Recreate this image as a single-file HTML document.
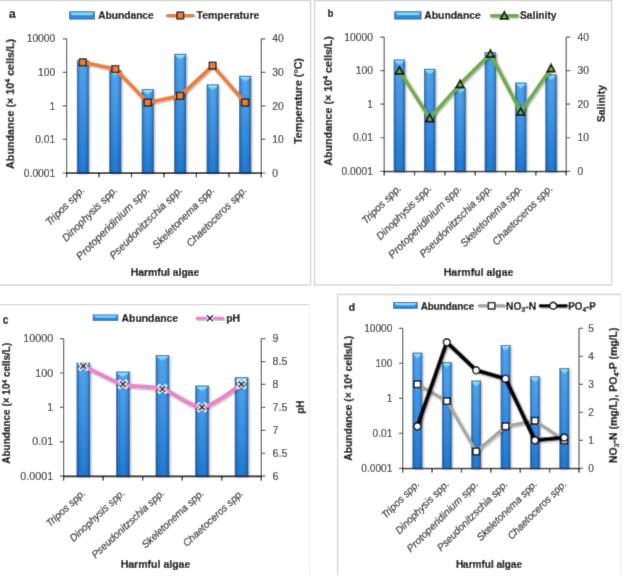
<!DOCTYPE html>
<html lang="en"><head><meta charset="utf-8"><title>Harmful algae abundance</title>
<style>
html,body{margin:0;padding:0;background:#fff}
svg{display:block}
text{font-family:"Liberation Sans",sans-serif}
.r{stroke:#262626;stroke-width:0.15px}
.b{font-weight:bold;stroke:#000;stroke-width:0.22px}
.i{font-style:italic;stroke:#262626;stroke-width:0.2px}
</style></head><body>
<svg width="624" height="578" viewBox="0 0 624 578">
<defs>
<linearGradient id="bv" x1="0" y1="0" x2="0" y2="1">
<stop offset="0" stop-color="#4fa5ee"/><stop offset="0.45" stop-color="#3d93e4"/><stop offset="1" stop-color="#1f78d2"/>
</linearGradient>
<linearGradient id="be" x1="0" y1="0" x2="1" y2="0">
<stop offset="0" stop-color="#0b2f5c" stop-opacity="0.6"/><stop offset="0.08" stop-color="#0b2f5c" stop-opacity="0.4"/><stop offset="0.2" stop-color="#0b2f5c" stop-opacity="0.1"/><stop offset="0.4" stop-color="#0b2f5c" stop-opacity="0"/><stop offset="0.6" stop-color="#0b2f5c" stop-opacity="0"/><stop offset="0.8" stop-color="#0b2f5c" stop-opacity="0.1"/><stop offset="0.92" stop-color="#0b2f5c" stop-opacity="0.4"/><stop offset="1" stop-color="#0b2f5c" stop-opacity="0.6"/>
</linearGradient>
<linearGradient id="lg" x1="0" y1="0" x2="0" y2="1">
<stop offset="0" stop-color="#45a0ec"/><stop offset="1" stop-color="#2a84d8"/>
</linearGradient>
<linearGradient id="hl" x1="0" y1="0" x2="0" y2="1">
<stop offset="0" stop-color="#93e6ff"/><stop offset="1" stop-color="#63c4f6"/>
</linearGradient>
<filter id="sh" x="-20%" y="-20%" width="140%" height="140%"><feGaussianBlur in="SourceAlpha" stdDeviation="1.2" result="b"/><feOffset in="b" dx="0.6" dy="0.8" result="o"/><feComponentTransfer in="o" result="s"><feFuncA type="linear" slope="0.38"/></feComponentTransfer><feMerge><feMergeNode in="s"/><feMergeNode in="SourceGraphic"/></feMerge></filter>
<filter id="soft" filterUnits="userSpaceOnUse" x="0" y="0" width="624" height="578"><feConvolveMatrix order="3" kernelMatrix="0 1 0 1 5 1 0 1 0" edgeMode="duplicate" preserveAlpha="true"/></filter>
</defs>
<rect width="624" height="578" fill="#fff"/>
<g filter="url(#soft)">
<rect x="-10" y="-10" width="644" height="598" fill="#fff"/>

<path d="M0 0.6H310.6V285H0" fill="none" stroke="#d4d4d4" stroke-width="1.4"/>
<rect x="314.6" y="0.6" width="297.1" height="284.4" fill="none" stroke="#d4d4d4" stroke-width="1.4"/>
<path d="M0 304.6H309.4" fill="none" stroke="#d4d4d4" stroke-width="1.2"/>
<path d="M309.4 304.6V575" fill="none" stroke="#f0f0f0" stroke-width="1"/>
<path d="M337.6 575V294.5H620.6" fill="none" stroke="#d4d4d4" stroke-width="1.3"/>
<path d="M620.6 294.5V575" fill="none" stroke="#ececec" stroke-width="1"/>
<g>
<rect x="76.92" y="60.5" width="11.8" height="112.5" fill="url(#bv)" filter="url(#sh)"/>
<rect x="76.92" y="60.5" width="11.8" height="112.5" fill="url(#be)"/>
<path d="M76.92 60.95H88.72" stroke="#1c5a98" stroke-width="0.9" opacity="0.75"/>
<path d="M78.12 61.5 H87.52 V62.4 L84.02 65.4 Q82.82 66.2 81.62 65.4 L78.12 62.4 Z" fill="url(#hl)"/>
<rect x="109.38" y="70.4" width="11.8" height="102.6" fill="url(#bv)" filter="url(#sh)"/>
<rect x="109.38" y="70.4" width="11.8" height="102.6" fill="url(#be)"/>
<path d="M109.38 70.85H121.17" stroke="#1c5a98" stroke-width="0.9" opacity="0.75"/>
<path d="M110.58 71.4 H119.97 V72.3 L116.48 75.3 Q115.28 76.1 114.08 75.3 L110.58 72.3 Z" fill="url(#hl)"/>
<rect x="141.82" y="89" width="11.8" height="84" fill="url(#bv)" filter="url(#sh)"/>
<rect x="141.82" y="89" width="11.8" height="84" fill="url(#be)"/>
<path d="M141.82 89.45H153.62" stroke="#1c5a98" stroke-width="0.9" opacity="0.75"/>
<path d="M143.02 90 H152.43 V90.9 L148.92 93.9 Q147.72 94.7 146.53 93.9 L143.02 90.9 Z" fill="url(#hl)"/>
<rect x="174.28" y="53.9" width="11.8" height="119.1" fill="url(#bv)" filter="url(#sh)"/>
<rect x="174.28" y="53.9" width="11.8" height="119.1" fill="url(#be)"/>
<path d="M174.28 54.35H186.08" stroke="#1c5a98" stroke-width="0.9" opacity="0.75"/>
<path d="M175.47 54.9 H184.88 V55.8 L181.38 58.8 Q180.18 59.6 178.98 58.8 L175.47 55.8 Z" fill="url(#hl)"/>
<rect x="206.72" y="84.5" width="11.8" height="88.5" fill="url(#bv)" filter="url(#sh)"/>
<rect x="206.72" y="84.5" width="11.8" height="88.5" fill="url(#be)"/>
<path d="M206.72 84.95H218.53" stroke="#1c5a98" stroke-width="0.9" opacity="0.75"/>
<path d="M207.92 85.5 H217.33 V86.4 L213.82 89.4 Q212.62 90.2 211.43 89.4 L207.92 86.4 Z" fill="url(#hl)"/>
<rect x="239.18" y="75.9" width="11.8" height="97.1" fill="url(#bv)" filter="url(#sh)"/>
<rect x="239.18" y="75.9" width="11.8" height="97.1" fill="url(#be)"/>
<path d="M239.18 76.35H250.98" stroke="#1c5a98" stroke-width="0.9" opacity="0.75"/>
<path d="M240.38 76.9 H249.78 V77.8 L246.28 80.8 Q245.08 81.6 243.88 80.8 L240.38 77.8 Z" fill="url(#hl)"/>
<path d="M66.6 38.8 V173 M261.3 38.8 V173 M66.6 173 H261.3" stroke="#555" stroke-width="1.2" fill="none"/>
<text class="r" x="55.3" y="42.4" font-size="10.17" text-anchor="end" fill="#262626" textLength="28.64" lengthAdjust="spacingAndGlyphs">10000</text>
<text class="r" x="55.3" y="75.95" font-size="10.17" text-anchor="end" fill="#262626" textLength="17.18" lengthAdjust="spacingAndGlyphs">100</text>
<text class="r" x="55.3" y="109.5" font-size="10.17" text-anchor="end" fill="#262626" textLength="5.73" lengthAdjust="spacingAndGlyphs">1</text>
<text class="r" x="55.3" y="143.05" font-size="10.17" text-anchor="end" fill="#262626" textLength="20.04" lengthAdjust="spacingAndGlyphs">0.01</text>
<text class="r" x="55.3" y="176.6" font-size="10.17" text-anchor="end" fill="#262626" textLength="31.49" lengthAdjust="spacingAndGlyphs">0.0001</text>
<text class="r" x="272.3" y="42.4" font-size="10.17" text-anchor="start" fill="#262626" textLength="11.46" lengthAdjust="spacingAndGlyphs">40</text>
<text class="r" x="272.3" y="75.95" font-size="10.17" text-anchor="start" fill="#262626" textLength="11.46" lengthAdjust="spacingAndGlyphs">30</text>
<text class="r" x="272.3" y="109.5" font-size="10.17" text-anchor="start" fill="#262626" textLength="11.46" lengthAdjust="spacingAndGlyphs">20</text>
<text class="r" x="272.3" y="143.05" font-size="10.17" text-anchor="start" fill="#262626" textLength="11.46" lengthAdjust="spacingAndGlyphs">10</text>
<text class="r" x="272.3" y="176.6" font-size="10.17" text-anchor="start" fill="#262626" textLength="5.73" lengthAdjust="spacingAndGlyphs">0</text>
<path d="M62.8 38.8H66.6M62.8 72.35H66.6M62.8 105.9H66.6M62.8 139.45H66.6M62.8 173H66.6M261.3 38.8H265.3M261.3 72.35H265.3M261.3 105.9H265.3M261.3 139.45H265.3M261.3 173H265.3" stroke="#555" stroke-width="1.2" fill="none"/>
<path d="M66.6 173V177.3M99.05 173V177.3M131.5 173V177.3M163.95 173V177.3M196.4 173V177.3M228.85 173V177.3M261.3 173V177.3" stroke="#111" stroke-width="1.25" fill="none"/>
<path d="M66 173.3H261.9" stroke="#000" stroke-width="1.4"/>
<text class="i" x="85.42" y="190.6" font-size="10.53" text-anchor="end" fill="#262626" textLength="50.59" lengthAdjust="spacingAndGlyphs" transform="rotate(-45 85.42 190.6)">Tripos spp.</text>
<text class="i" x="117.88" y="190.6" font-size="10.53" text-anchor="end" fill="#262626" textLength="72.93" lengthAdjust="spacingAndGlyphs" transform="rotate(-45 117.88 190.6)">Dinophysis spp.</text>
<text class="i" x="150.32" y="190.6" font-size="10.53" text-anchor="end" fill="#262626" textLength="99" lengthAdjust="spacingAndGlyphs" transform="rotate(-45 150.32 190.6)">Protoperidinium spp.</text>
<text class="i" x="182.78" y="190.6" font-size="10.53" text-anchor="end" fill="#262626" textLength="97.66" lengthAdjust="spacingAndGlyphs" transform="rotate(-45 182.78 190.6)">Pseudonitzschia spp.</text>
<text class="i" x="215.22" y="190.6" font-size="10.53" text-anchor="end" fill="#262626" textLength="82.86" lengthAdjust="spacingAndGlyphs" transform="rotate(-45 215.22 190.6)">Skeletonema spp.</text>
<text class="i" x="247.68" y="190.6" font-size="10.53" text-anchor="end" fill="#262626" textLength="80.58" lengthAdjust="spacingAndGlyphs" transform="rotate(-45 247.68 190.6)">Chaetoceros spp.</text>
<path d="M82.82 62.28 L115.28 69 L147.72 102.55 L180.18 95.83 L212.62 65.64 L245.08 102.55" fill="none" stroke="#ed7d31" stroke-width="3.6" stroke-linejoin="round" stroke-linecap="round" filter="url(#sh)"/>
<rect x="79.42" y="58.88" width="6.8" height="6.8" fill="#ed7d31" stroke="#111" stroke-width="1.3"/>
<rect x="111.88" y="65.59" width="6.8" height="6.8" fill="#ed7d31" stroke="#111" stroke-width="1.3"/>
<rect x="144.32" y="99.14" width="6.8" height="6.8" fill="#ed7d31" stroke="#111" stroke-width="1.3"/>
<rect x="176.78" y="92.43" width="6.8" height="6.8" fill="#ed7d31" stroke="#111" stroke-width="1.3"/>
<rect x="209.22" y="62.24" width="6.8" height="6.8" fill="#ed7d31" stroke="#111" stroke-width="1.3"/>
<rect x="241.68" y="99.14" width="6.8" height="6.8" fill="#ed7d31" stroke="#111" stroke-width="1.3"/>
<text class="b" x="14" y="103.9" font-size="10.98" text-anchor="middle" fill="#000" textLength="130" lengthAdjust="spacingAndGlyphs" transform="rotate(-90 14 103.9)">Abundance (× 10<tspan font-size="66%" dy="-0.52em">4</tspan><tspan dy="0.343em">&#8203;</tspan> cells/L)</text>
<text class="b" x="302" y="101" font-size="10.98" text-anchor="middle" fill="#000" textLength="85.83" lengthAdjust="spacingAndGlyphs" transform="rotate(-90 302 101)">Temperature (°C)</text>
<text class="b" x="165" y="276.3" font-size="10.62" text-anchor="middle" fill="#000" textLength="68.51" lengthAdjust="spacingAndGlyphs">Harmful algae</text>
<text class="b" x="8.7" y="18.2" font-size="12.87" text-anchor="start" fill="#000" textLength="7.06" lengthAdjust="spacingAndGlyphs">a</text>
<rect x="69.45" y="11.75" width="25.1" height="7.3" fill="url(#lg)" stroke="#1f5fa5" stroke-width="0.9"/>
<path d="M70.2 12.4 H93.8 L91.6 14.9 H72.4 Z" fill="#86dcff" opacity="0.95"/>
<text class="b" x="98.2" y="19.3" font-size="10.62" text-anchor="start" fill="#000" textLength="55.52" lengthAdjust="spacingAndGlyphs">Abundance</text>
<rect x="165.9" y="13.9" width="28.7" height="3.2" rx="1.6" fill="#ed7d31" filter="url(#sh)"/>
<rect x="176.85" y="12.1" width="6.8" height="6.8" fill="#ed7d31" stroke="#111" stroke-width="1.3"/>
<text class="b" x="196.6" y="19.3" font-size="10.62" text-anchor="start" fill="#000" textLength="62.71" lengthAdjust="spacingAndGlyphs">Temperature</text>
</g>
<g>
<rect x="393.77" y="59.6" width="11.2" height="111.7" fill="url(#bv)" filter="url(#sh)"/>
<rect x="393.77" y="59.6" width="11.2" height="111.7" fill="url(#be)"/>
<path d="M393.77 60.05H404.97" stroke="#1c5a98" stroke-width="0.9" opacity="0.75"/>
<path d="M394.97 60.6 H403.77 V61.5 L400.57 64.5 Q399.37 65.3 398.17 64.5 L394.97 61.5 Z" fill="url(#hl)"/>
<rect x="424.1" y="68.9" width="11.2" height="102.4" fill="url(#bv)" filter="url(#sh)"/>
<rect x="424.1" y="68.9" width="11.2" height="102.4" fill="url(#be)"/>
<path d="M424.1 69.35H435.3" stroke="#1c5a98" stroke-width="0.9" opacity="0.75"/>
<path d="M425.3 69.9 H434.1 V70.8 L430.9 73.8 Q429.7 74.6 428.5 73.8 L425.3 70.8 Z" fill="url(#hl)"/>
<rect x="454.43" y="87.7" width="11.2" height="83.6" fill="url(#bv)" filter="url(#sh)"/>
<rect x="454.43" y="87.7" width="11.2" height="83.6" fill="url(#be)"/>
<path d="M454.43 88.15H465.63" stroke="#1c5a98" stroke-width="0.9" opacity="0.75"/>
<path d="M455.63 88.7 H464.43 V89.6 L461.23 92.6 Q460.03 93.4 458.83 92.6 L455.63 89.6 Z" fill="url(#hl)"/>
<rect x="484.77" y="52.1" width="11.2" height="119.2" fill="url(#bv)" filter="url(#sh)"/>
<rect x="484.77" y="52.1" width="11.2" height="119.2" fill="url(#be)"/>
<path d="M484.77 52.55H495.97" stroke="#1c5a98" stroke-width="0.9" opacity="0.75"/>
<path d="M485.97 53.1 H494.77 V54 L491.57 57 Q490.37 57.8 489.17 57 L485.97 54 Z" fill="url(#hl)"/>
<rect x="515.1" y="82.7" width="11.2" height="88.6" fill="url(#bv)" filter="url(#sh)"/>
<rect x="515.1" y="82.7" width="11.2" height="88.6" fill="url(#be)"/>
<path d="M515.1 83.15H526.3" stroke="#1c5a98" stroke-width="0.9" opacity="0.75"/>
<path d="M516.3 83.7 H525.1 V84.6 L521.9 87.6 Q520.7 88.4 519.5 87.6 L516.3 84.6 Z" fill="url(#hl)"/>
<rect x="545.43" y="74.4" width="11.2" height="96.9" fill="url(#bv)" filter="url(#sh)"/>
<rect x="545.43" y="74.4" width="11.2" height="96.9" fill="url(#be)"/>
<path d="M545.43 74.85H556.63" stroke="#1c5a98" stroke-width="0.9" opacity="0.75"/>
<path d="M546.63 75.4 H555.43 V76.3 L552.23 79.3 Q551.03 80.1 549.83 79.3 L546.63 76.3 Z" fill="url(#hl)"/>
<path d="M384.2 37.1 V171.3 M566.2 37.1 V171.3 M384.2 171.3 H566.2" stroke="#555" stroke-width="1.2" fill="none"/>
<text class="r" x="373" y="40.7" font-size="10.17" text-anchor="end" fill="#262626" textLength="28.64" lengthAdjust="spacingAndGlyphs">10000</text>
<text class="r" x="373" y="74.25" font-size="10.17" text-anchor="end" fill="#262626" textLength="17.18" lengthAdjust="spacingAndGlyphs">100</text>
<text class="r" x="373" y="107.8" font-size="10.17" text-anchor="end" fill="#262626" textLength="5.73" lengthAdjust="spacingAndGlyphs">1</text>
<text class="r" x="373" y="141.35" font-size="10.17" text-anchor="end" fill="#262626" textLength="20.04" lengthAdjust="spacingAndGlyphs">0.01</text>
<text class="r" x="373" y="174.9" font-size="10.17" text-anchor="end" fill="#262626" textLength="31.49" lengthAdjust="spacingAndGlyphs">0.0001</text>
<text class="r" x="577.5" y="40.7" font-size="10.17" text-anchor="start" fill="#262626" textLength="11.46" lengthAdjust="spacingAndGlyphs">40</text>
<text class="r" x="577.5" y="74.25" font-size="10.17" text-anchor="start" fill="#262626" textLength="11.46" lengthAdjust="spacingAndGlyphs">30</text>
<text class="r" x="577.5" y="107.8" font-size="10.17" text-anchor="start" fill="#262626" textLength="11.46" lengthAdjust="spacingAndGlyphs">20</text>
<text class="r" x="577.5" y="141.35" font-size="10.17" text-anchor="start" fill="#262626" textLength="11.46" lengthAdjust="spacingAndGlyphs">10</text>
<text class="r" x="577.5" y="174.9" font-size="10.17" text-anchor="start" fill="#262626" textLength="5.73" lengthAdjust="spacingAndGlyphs">0</text>
<path d="M380.4 37.1H384.2M380.4 70.65H384.2M380.4 104.2H384.2M380.4 137.75H384.2M380.4 171.3H384.2M566.2 37.1H570.2M566.2 70.65H570.2M566.2 104.2H570.2M566.2 137.75H570.2M566.2 171.3H570.2" stroke="#555" stroke-width="1.2" fill="none"/>
<path d="M384.2 171.3V175.6M414.53 171.3V175.6M444.87 171.3V175.6M475.2 171.3V175.6M505.53 171.3V175.6M535.87 171.3V175.6M566.2 171.3V175.6" stroke="#111" stroke-width="1.25" fill="none"/>
<path d="M383.6 171.6H566.8" stroke="#000" stroke-width="1.4"/>
<text class="i" x="401.77" y="188.9" font-size="10.53" text-anchor="end" fill="#262626" textLength="50.59" lengthAdjust="spacingAndGlyphs" transform="rotate(-45 401.77 188.9)">Tripos spp.</text>
<text class="i" x="432.1" y="188.9" font-size="10.53" text-anchor="end" fill="#262626" textLength="72.93" lengthAdjust="spacingAndGlyphs" transform="rotate(-45 432.1 188.9)">Dinophysis spp.</text>
<text class="i" x="462.43" y="188.9" font-size="10.53" text-anchor="end" fill="#262626" textLength="99" lengthAdjust="spacingAndGlyphs" transform="rotate(-45 462.43 188.9)">Protoperidinium spp.</text>
<text class="i" x="492.77" y="188.9" font-size="10.53" text-anchor="end" fill="#262626" textLength="97.66" lengthAdjust="spacingAndGlyphs" transform="rotate(-45 492.77 188.9)">Pseudonitzschia spp.</text>
<text class="i" x="523.1" y="188.9" font-size="10.53" text-anchor="end" fill="#262626" textLength="82.86" lengthAdjust="spacingAndGlyphs" transform="rotate(-45 523.1 188.9)">Skeletonema spp.</text>
<text class="i" x="553.43" y="188.9" font-size="10.53" text-anchor="end" fill="#262626" textLength="80.58" lengthAdjust="spacingAndGlyphs" transform="rotate(-45 553.43 188.9)">Chaetoceros spp.</text>
<path d="M399.37 70.65 L429.7 118.29 L460.03 84.07 L490.37 53.88 L520.7 111.92 L551.03 68.3" fill="none" stroke="#70ad47" stroke-width="3.6" stroke-linejoin="round" stroke-linecap="round" filter="url(#sh)"/>
<path d="M399.37 66.75 L403.27 73.95 L395.47 73.95 Z" fill="#70ad47" stroke="#0a0a0a" stroke-width="1.7" stroke-linejoin="miter"/>
<path d="M429.7 114.39 L433.6 121.59 L425.8 121.59 Z" fill="#70ad47" stroke="#0a0a0a" stroke-width="1.7" stroke-linejoin="miter"/>
<path d="M460.03 80.17 L463.93 87.37 L456.13 87.37 Z" fill="#70ad47" stroke="#0a0a0a" stroke-width="1.7" stroke-linejoin="miter"/>
<path d="M490.37 49.98 L494.27 57.18 L486.47 57.18 Z" fill="#70ad47" stroke="#0a0a0a" stroke-width="1.7" stroke-linejoin="miter"/>
<path d="M520.7 108.02 L524.6 115.22 L516.8 115.22 Z" fill="#70ad47" stroke="#0a0a0a" stroke-width="1.7" stroke-linejoin="miter"/>
<path d="M551.03 64.4 L554.93 71.6 L547.13 71.6 Z" fill="#70ad47" stroke="#0a0a0a" stroke-width="1.7" stroke-linejoin="miter"/>
<text class="b" x="332.2" y="100.9" font-size="10.98" text-anchor="middle" fill="#000" textLength="129.6" lengthAdjust="spacingAndGlyphs" transform="rotate(-90 332.2 100.9)">Abundance (× 10<tspan font-size="66%" dy="-0.52em">4</tspan><tspan dy="0.343em">&#8203;</tspan> cells/L)</text>
<text class="b" x="604.8" y="103.6" font-size="10.98" text-anchor="middle" fill="#000" textLength="37.33" lengthAdjust="spacingAndGlyphs" transform="rotate(-90 604.8 103.6)">Salinity</text>
<text class="b" x="478.6" y="276.3" font-size="10.8" text-anchor="middle" fill="#000" textLength="69.68" lengthAdjust="spacingAndGlyphs">Harmful algae</text>
<text class="b" x="327.6" y="17.3" font-size="9.99" text-anchor="start" fill="#000" textLength="5.96" lengthAdjust="spacingAndGlyphs">b</text>
<rect x="394.65" y="11.75" width="26.4" height="7.3" fill="url(#lg)" stroke="#1f5fa5" stroke-width="0.9"/>
<path d="M395.4 12.4 H420.3 L418.1 14.9 H397.6 Z" fill="#86dcff" opacity="0.95"/>
<text class="b" x="424.3" y="19.3" font-size="10.8" text-anchor="start" fill="#000" textLength="56.46" lengthAdjust="spacingAndGlyphs">Abundance</text>
<rect x="489.8" y="14.1" width="29.1" height="3.4" rx="1.7" fill="#70ad47" filter="url(#sh)"/>
<path d="M504.35 11.9 L508.25 19.1 L500.45 19.1 Z" fill="#70ad47" stroke="#0a0a0a" stroke-width="1.7" stroke-linejoin="miter"/>
<text class="b" x="519.9" y="19.3" font-size="10.8" text-anchor="start" fill="#000" textLength="36.72" lengthAdjust="spacingAndGlyphs">Salinity</text>
</g>
<g>
<rect x="76.67" y="362.7" width="13.4" height="113.5" fill="url(#bv)" filter="url(#sh)"/>
<rect x="76.67" y="362.7" width="13.4" height="113.5" fill="url(#be)"/>
<path d="M76.67 363.15H90.07" stroke="#1c5a98" stroke-width="0.9" opacity="0.75"/>
<path d="M77.87 363.7 H88.87 V364.6 L84.57 367.6 Q83.37 368.4 82.17 367.6 L77.87 364.6 Z" fill="url(#hl)"/>
<rect x="116.21" y="371.7" width="13.4" height="104.5" fill="url(#bv)" filter="url(#sh)"/>
<rect x="116.21" y="371.7" width="13.4" height="104.5" fill="url(#be)"/>
<path d="M116.21 372.15H129.61" stroke="#1c5a98" stroke-width="0.9" opacity="0.75"/>
<path d="M117.41 372.7 H128.41 V373.6 L124.11 376.6 Q122.91 377.4 121.71 376.6 L117.41 373.6 Z" fill="url(#hl)"/>
<rect x="155.75" y="355.2" width="13.4" height="121" fill="url(#bv)" filter="url(#sh)"/>
<rect x="155.75" y="355.2" width="13.4" height="121" fill="url(#be)"/>
<path d="M155.75 355.65H169.15" stroke="#1c5a98" stroke-width="0.9" opacity="0.75"/>
<path d="M156.95 356.2 H167.95 V357.1 L163.65 360.1 Q162.45 360.9 161.25 360.1 L156.95 357.1 Z" fill="url(#hl)"/>
<rect x="195.29" y="385.7" width="13.4" height="90.5" fill="url(#bv)" filter="url(#sh)"/>
<rect x="195.29" y="385.7" width="13.4" height="90.5" fill="url(#be)"/>
<path d="M195.29 386.15H208.69" stroke="#1c5a98" stroke-width="0.9" opacity="0.75"/>
<path d="M196.49 386.7 H207.49 V387.6 L203.19 390.6 Q201.99 391.4 200.79 390.6 L196.49 387.6 Z" fill="url(#hl)"/>
<rect x="234.83" y="377.2" width="13.4" height="99" fill="url(#bv)" filter="url(#sh)"/>
<rect x="234.83" y="377.2" width="13.4" height="99" fill="url(#be)"/>
<path d="M234.83 377.65H248.23" stroke="#1c5a98" stroke-width="0.9" opacity="0.75"/>
<path d="M236.03 378.2 H247.03 V379.1 L242.73 382.1 Q241.53 382.9 240.33 382.1 L236.03 379.1 Z" fill="url(#hl)"/>
<path d="M63.6 338.6 V476.2 M261.3 338.6 V476.2 M63.6 476.2 H261.3" stroke="#555" stroke-width="1.2" fill="none"/>
<text class="r" x="53.2" y="342.2" font-size="10.62" text-anchor="end" fill="#262626" textLength="29.91" lengthAdjust="spacingAndGlyphs">10000</text>
<text class="r" x="53.2" y="376.6" font-size="10.62" text-anchor="end" fill="#262626" textLength="17.94" lengthAdjust="spacingAndGlyphs">100</text>
<text class="r" x="53.2" y="411" font-size="10.62" text-anchor="end" fill="#262626" textLength="5.98" lengthAdjust="spacingAndGlyphs">1</text>
<text class="r" x="53.2" y="445.4" font-size="10.62" text-anchor="end" fill="#262626" textLength="20.92" lengthAdjust="spacingAndGlyphs">0.01</text>
<text class="r" x="53.2" y="479.8" font-size="10.62" text-anchor="end" fill="#262626" textLength="32.88" lengthAdjust="spacingAndGlyphs">0.0001</text>
<text class="r" x="272.5" y="342.2" font-size="10.62" text-anchor="start" fill="#262626" textLength="5.98" lengthAdjust="spacingAndGlyphs">9</text>
<text class="r" x="272.5" y="365.13" font-size="10.62" text-anchor="start" fill="#262626" textLength="14.94" lengthAdjust="spacingAndGlyphs">8.5</text>
<text class="r" x="272.5" y="388.07" font-size="10.62" text-anchor="start" fill="#262626" textLength="5.98" lengthAdjust="spacingAndGlyphs">8</text>
<text class="r" x="272.5" y="411" font-size="10.62" text-anchor="start" fill="#262626" textLength="14.94" lengthAdjust="spacingAndGlyphs">7.5</text>
<text class="r" x="272.5" y="433.93" font-size="10.62" text-anchor="start" fill="#262626" textLength="5.98" lengthAdjust="spacingAndGlyphs">7</text>
<text class="r" x="272.5" y="456.87" font-size="10.62" text-anchor="start" fill="#262626" textLength="14.94" lengthAdjust="spacingAndGlyphs">6.5</text>
<text class="r" x="272.5" y="479.8" font-size="10.62" text-anchor="start" fill="#262626" textLength="5.98" lengthAdjust="spacingAndGlyphs">6</text>
<path d="M59.8 338.6H63.6M59.8 373H63.6M59.8 407.4H63.6M59.8 441.8H63.6M59.8 476.2H63.6M261.3 338.6H265.3M261.3 361.53H265.3M261.3 384.47H265.3M261.3 407.4H265.3M261.3 430.33H265.3M261.3 453.27H265.3M261.3 476.2H265.3" stroke="#555" stroke-width="1.2" fill="none"/>
<path d="M63.6 476.2V480.5M103.14 476.2V480.5M142.68 476.2V480.5M182.22 476.2V480.5M221.76 476.2V480.5M261.3 476.2V480.5" stroke="#111" stroke-width="1.25" fill="none"/>
<path d="M63 476.5H261.9" stroke="#000" stroke-width="1.4"/>
<text class="i" x="85.97" y="493.8" font-size="10.26" text-anchor="end" fill="#262626" textLength="49.3" lengthAdjust="spacingAndGlyphs" transform="rotate(-43 85.97 493.8)">Tripos spp.</text>
<text class="i" x="125.51" y="493.8" font-size="10.26" text-anchor="end" fill="#262626" textLength="71.06" lengthAdjust="spacingAndGlyphs" transform="rotate(-43 125.51 493.8)">Dinophysis spp.</text>
<text class="i" x="165.05" y="493.8" font-size="10.26" text-anchor="end" fill="#262626" textLength="95.16" lengthAdjust="spacingAndGlyphs" transform="rotate(-43 165.05 493.8)">Pseudonitzschia spp.</text>
<text class="i" x="204.59" y="493.8" font-size="10.26" text-anchor="end" fill="#262626" textLength="80.73" lengthAdjust="spacingAndGlyphs" transform="rotate(-43 204.59 493.8)">Skeletonema spp.</text>
<text class="i" x="244.13" y="493.8" font-size="10.26" text-anchor="end" fill="#262626" textLength="78.52" lengthAdjust="spacingAndGlyphs" transform="rotate(-43 244.13 493.8)">Chaetoceros spp.</text>
<path d="M83.37 365.94 C88.64 368.39 112.37 381.26 122.91 384.32 C133.45 387.38 151.91 385.85 162.45 388.91 C172.99 391.98 191.45 407.9 201.99 407.29 C212.53 406.68 236.26 387.38 241.53 384.32" fill="none" stroke="#e884d0" stroke-width="4" stroke-linejoin="round" stroke-linecap="round" filter="url(#sh)"/>
<path d="M80.37 362.94 L86.37 368.94 M80.37 368.94 L86.37 362.94" stroke="#fff" stroke-width="3.2" stroke-linecap="square" fill="none"/>
<path d="M80.37 362.94 L86.37 368.94 M80.37 368.94 L86.37 362.94" stroke="#000" stroke-width="1.5" fill="none"/>
<path d="M119.91 381.32 L125.91 387.32 M119.91 387.32 L125.91 381.32" stroke="#fff" stroke-width="3.2" stroke-linecap="square" fill="none"/>
<path d="M119.91 381.32 L125.91 387.32 M119.91 387.32 L125.91 381.32" stroke="#000" stroke-width="1.5" fill="none"/>
<path d="M159.45 385.91 L165.45 391.91 M159.45 391.91 L165.45 385.91" stroke="#fff" stroke-width="3.2" stroke-linecap="square" fill="none"/>
<path d="M159.45 385.91 L165.45 391.91 M159.45 391.91 L165.45 385.91" stroke="#000" stroke-width="1.5" fill="none"/>
<path d="M198.99 404.29 L204.99 410.29 M198.99 410.29 L204.99 404.29" stroke="#fff" stroke-width="3.2" stroke-linecap="square" fill="none"/>
<path d="M198.99 404.29 L204.99 410.29 M198.99 410.29 L204.99 404.29" stroke="#000" stroke-width="1.5" fill="none"/>
<path d="M238.53 381.32 L244.53 387.32 M238.53 387.32 L244.53 381.32" stroke="#fff" stroke-width="3.2" stroke-linecap="square" fill="none"/>
<path d="M238.53 381.32 L244.53 387.32 M238.53 387.32 L244.53 381.32" stroke="#000" stroke-width="1.5" fill="none"/>
<text class="b" x="10.4" y="403.2" font-size="10.26" text-anchor="middle" fill="#000" textLength="121" lengthAdjust="spacingAndGlyphs" transform="rotate(-90 10.4 403.2)">Abundance (× 10<tspan font-size="66%" dy="-0.52em">4</tspan><tspan dy="0.343em">&#8203;</tspan> cells/L)</text>
<text class="b" x="303.6" y="407.2" font-size="10.26" text-anchor="middle" fill="#000" textLength="13.31" lengthAdjust="spacingAndGlyphs" transform="rotate(-90 303.6 407.2)">pH</text>
<text class="b" x="155.5" y="568.3" font-size="10.8" text-anchor="middle" fill="#000" textLength="69.68" lengthAdjust="spacingAndGlyphs">Harmful algae</text>
<text class="b" x="2.8" y="323.5" font-size="12.15" text-anchor="start" fill="#000" textLength="5.65" lengthAdjust="spacingAndGlyphs">c</text>
<rect x="93.15" y="314.95" width="24.7" height="5.4" fill="url(#lg)" stroke="#1f5fa5" stroke-width="0.9"/>
<path d="M93.9 315.6 H117.1 L114.9 317.52 H96.1 Z" fill="#86dcff" opacity="0.95"/>
<text class="b" x="121.6" y="322" font-size="10.8" text-anchor="start" fill="#000" textLength="56.46" lengthAdjust="spacingAndGlyphs">Abundance</text>
<rect x="195.5" y="316.8" width="28.8" height="3" rx="1.5" fill="#e884d0" filter="url(#sh)"/>
<path d="M206.9 315.3 L212.9 321.3 M206.9 321.3 L212.9 315.3" stroke="#fff" stroke-width="3.2" stroke-linecap="square" fill="none"/>
<path d="M206.9 315.3 L212.9 321.3 M206.9 321.3 L212.9 315.3" stroke="#000" stroke-width="1.5" fill="none"/>
<text class="b" x="226.2" y="322" font-size="10.8" text-anchor="start" fill="#000" textLength="14.01" lengthAdjust="spacingAndGlyphs">pH</text>
</g>
<g>
<rect x="412.59" y="352.7" width="9.6" height="115.6" fill="url(#bv)" filter="url(#sh)"/>
<rect x="412.59" y="352.7" width="9.6" height="115.6" fill="url(#be)"/>
<path d="M412.59 353.15H422.19" stroke="#1c5a98" stroke-width="0.9" opacity="0.75"/>
<path d="M413.79 353.7 H420.99 V354.6 L418.59 357.6 Q417.39 358.4 416.19 357.6 L413.79 354.6 Z" fill="url(#hl)"/>
<rect x="441.97" y="362.2" width="9.6" height="106.1" fill="url(#bv)" filter="url(#sh)"/>
<rect x="441.97" y="362.2" width="9.6" height="106.1" fill="url(#be)"/>
<path d="M441.97 362.65H451.57" stroke="#1c5a98" stroke-width="0.9" opacity="0.75"/>
<path d="M443.17 363.2 H450.38 V364.1 L447.97 367.1 Q446.77 367.9 445.57 367.1 L443.17 364.1 Z" fill="url(#hl)"/>
<rect x="471.36" y="380.7" width="9.6" height="87.6" fill="url(#bv)" filter="url(#sh)"/>
<rect x="471.36" y="380.7" width="9.6" height="87.6" fill="url(#be)"/>
<path d="M471.36 381.15H480.96" stroke="#1c5a98" stroke-width="0.9" opacity="0.75"/>
<path d="M472.56 381.7 H479.76 V382.6 L477.36 385.6 Q476.16 386.4 474.96 385.6 L472.56 382.6 Z" fill="url(#hl)"/>
<rect x="500.74" y="345.1" width="9.6" height="123.2" fill="url(#bv)" filter="url(#sh)"/>
<rect x="500.74" y="345.1" width="9.6" height="123.2" fill="url(#be)"/>
<path d="M500.74 345.55H510.34" stroke="#1c5a98" stroke-width="0.9" opacity="0.75"/>
<path d="M501.94 346.1 H509.14 V347 L506.74 350 Q505.54 350.8 504.34 350 L501.94 347 Z" fill="url(#hl)"/>
<rect x="530.12" y="376.5" width="9.6" height="91.8" fill="url(#bv)" filter="url(#sh)"/>
<rect x="530.12" y="376.5" width="9.6" height="91.8" fill="url(#be)"/>
<path d="M530.12 376.95H539.73" stroke="#1c5a98" stroke-width="0.9" opacity="0.75"/>
<path d="M531.33 377.5 H538.52 V378.4 L536.12 381.4 Q534.92 382.2 533.72 381.4 L531.33 378.4 Z" fill="url(#hl)"/>
<rect x="559.51" y="368.2" width="9.6" height="100.1" fill="url(#bv)" filter="url(#sh)"/>
<rect x="559.51" y="368.2" width="9.6" height="100.1" fill="url(#be)"/>
<path d="M559.51 368.65H569.11" stroke="#1c5a98" stroke-width="0.9" opacity="0.75"/>
<path d="M560.71 369.2 H567.91 V370.1 L565.51 373.1 Q564.31 373.9 563.11 373.1 L560.71 370.1 Z" fill="url(#hl)"/>
<path d="M402.7 328.3 V468.3 M579 328.3 V468.3 M402.7 468.3 H579" stroke="#555" stroke-width="1.2" fill="none"/>
<text class="r" x="392.3" y="331.9" font-size="9.99" text-anchor="end" fill="#262626" textLength="28.13" lengthAdjust="spacingAndGlyphs">10000</text>
<text class="r" x="392.3" y="366.9" font-size="9.99" text-anchor="end" fill="#262626" textLength="16.88" lengthAdjust="spacingAndGlyphs">100</text>
<text class="r" x="392.3" y="401.9" font-size="9.99" text-anchor="end" fill="#262626" textLength="5.63" lengthAdjust="spacingAndGlyphs">1</text>
<text class="r" x="392.3" y="436.9" font-size="9.99" text-anchor="end" fill="#262626" textLength="19.68" lengthAdjust="spacingAndGlyphs">0.01</text>
<text class="r" x="392.3" y="471.9" font-size="9.99" text-anchor="end" fill="#262626" textLength="30.93" lengthAdjust="spacingAndGlyphs">0.0001</text>
<text class="r" x="588.3" y="331.9" font-size="9.99" text-anchor="start" fill="#262626" textLength="5.63" lengthAdjust="spacingAndGlyphs">5</text>
<text class="r" x="588.3" y="359.9" font-size="9.99" text-anchor="start" fill="#262626" textLength="5.63" lengthAdjust="spacingAndGlyphs">4</text>
<text class="r" x="588.3" y="387.9" font-size="9.99" text-anchor="start" fill="#262626" textLength="5.63" lengthAdjust="spacingAndGlyphs">3</text>
<text class="r" x="588.3" y="415.9" font-size="9.99" text-anchor="start" fill="#262626" textLength="5.63" lengthAdjust="spacingAndGlyphs">2</text>
<text class="r" x="588.3" y="443.9" font-size="9.99" text-anchor="start" fill="#262626" textLength="5.63" lengthAdjust="spacingAndGlyphs">1</text>
<text class="r" x="588.3" y="471.9" font-size="9.99" text-anchor="start" fill="#262626" textLength="5.63" lengthAdjust="spacingAndGlyphs">0</text>
<path d="M398.9 328.3H402.7M398.9 363.3H402.7M398.9 398.3H402.7M398.9 433.3H402.7M398.9 468.3H402.7M579 328.3H583M579 356.3H583M579 384.3H583M579 412.3H583M579 440.3H583M579 468.3H583" stroke="#555" stroke-width="1.2" fill="none"/>
<path d="M402.7 468.3V472.6M432.08 468.3V472.6M461.47 468.3V472.6M490.85 468.3V472.6M520.23 468.3V472.6M549.62 468.3V472.6M579 468.3V472.6" stroke="#111" stroke-width="1.25" fill="none"/>
<path d="M402.1 468.6H579.6" stroke="#000" stroke-width="1.4"/>
<text class="i" x="420.29" y="484.5" font-size="10.26" text-anchor="end" fill="#262626" textLength="49.3" lengthAdjust="spacingAndGlyphs" transform="rotate(-45 420.29 484.5)">Tripos spp.</text>
<text class="i" x="449.67" y="484.5" font-size="10.26" text-anchor="end" fill="#262626" textLength="71.06" lengthAdjust="spacingAndGlyphs" transform="rotate(-45 449.67 484.5)">Dinophysis spp.</text>
<text class="i" x="479.06" y="484.5" font-size="10.26" text-anchor="end" fill="#262626" textLength="96.46" lengthAdjust="spacingAndGlyphs" transform="rotate(-45 479.06 484.5)">Protoperidinium spp.</text>
<text class="i" x="508.44" y="484.5" font-size="10.26" text-anchor="end" fill="#262626" textLength="95.16" lengthAdjust="spacingAndGlyphs" transform="rotate(-45 508.44 484.5)">Pseudonitzschia spp.</text>
<text class="i" x="537.82" y="484.5" font-size="10.26" text-anchor="end" fill="#262626" textLength="80.73" lengthAdjust="spacingAndGlyphs" transform="rotate(-45 537.82 484.5)">Skeletonema spp.</text>
<text class="i" x="567.21" y="484.5" font-size="10.26" text-anchor="end" fill="#262626" textLength="78.52" lengthAdjust="spacingAndGlyphs" transform="rotate(-45 567.21 484.5)">Chaetoceros spp.</text>
<path d="M417.39 384.3 L446.77 401.1 L476.16 451.5 L505.54 426.3 L534.92 420.7 L564.31 440.3" fill="none" stroke="#a5a5a5" stroke-width="3" stroke-linejoin="round" stroke-linecap="round" filter="url(#sh)"/>
<rect x="414.19" y="381.1" width="6.4" height="6.4" fill="#fff" stroke="#0a0a0a" stroke-width="1.5"/>
<rect x="443.57" y="397.9" width="6.4" height="6.4" fill="#fff" stroke="#0a0a0a" stroke-width="1.5"/>
<rect x="472.96" y="448.3" width="6.4" height="6.4" fill="#fff" stroke="#0a0a0a" stroke-width="1.5"/>
<rect x="502.34" y="423.1" width="6.4" height="6.4" fill="#fff" stroke="#0a0a0a" stroke-width="1.5"/>
<rect x="531.72" y="417.5" width="6.4" height="6.4" fill="#fff" stroke="#0a0a0a" stroke-width="1.5"/>
<rect x="561.11" y="437.1" width="6.4" height="6.4" fill="#fff" stroke="#0a0a0a" stroke-width="1.5"/>
<path d="M417.39 426.3 L446.77 342.3 L476.16 370.3 L505.54 378.7 L534.92 440.3 L564.31 437.5" fill="none" stroke="#000" stroke-width="4.1" stroke-linejoin="round" stroke-linecap="round" filter="url(#sh)"/>
<circle cx="417.39" cy="426.3" r="3.4" fill="#fff" stroke="#0a0a0a" stroke-width="1.6"/>
<circle cx="446.77" cy="342.3" r="3.4" fill="#fff" stroke="#0a0a0a" stroke-width="1.6"/>
<circle cx="476.16" cy="370.3" r="3.4" fill="#fff" stroke="#0a0a0a" stroke-width="1.6"/>
<circle cx="505.54" cy="378.7" r="3.4" fill="#fff" stroke="#0a0a0a" stroke-width="1.6"/>
<circle cx="534.92" cy="440.3" r="3.4" fill="#fff" stroke="#0a0a0a" stroke-width="1.6"/>
<circle cx="564.31" cy="437.5" r="3.4" fill="#fff" stroke="#0a0a0a" stroke-width="1.6"/>
<text class="b" x="352.4" y="398.3" font-size="10.53" text-anchor="middle" fill="#000" textLength="124.8" lengthAdjust="spacingAndGlyphs" transform="rotate(-90 352.4 398.3)">Abundance (× 10<tspan font-size="66%" dy="-0.52em">4</tspan><tspan dy="0.343em">&#8203;</tspan> cells/L)</text>
<text class="b" x="617" y="395.3" font-size="10.53" text-anchor="middle" fill="#000" textLength="135.37" lengthAdjust="spacingAndGlyphs" transform="rotate(-90 617 395.3)">NO<tspan font-size="66%" dy="0.3em">3</tspan><tspan dy="-0.198em">&#8203;</tspan>-N (mg/L), PO<tspan font-size="66%" dy="0.3em">4</tspan><tspan dy="-0.198em">&#8203;</tspan>-P (mg/L)</text>
<text class="b" x="489" y="568.3" font-size="10.26" text-anchor="middle" fill="#000" textLength="66.19" lengthAdjust="spacingAndGlyphs">Harmful algae</text>
<text class="b" x="348.5" y="311.2" font-size="11.16" text-anchor="start" fill="#000" textLength="6.65" lengthAdjust="spacingAndGlyphs">d</text>
<rect x="393.65" y="302.45" width="23.6" height="5.9" fill="url(#lg)" stroke="#1f5fa5" stroke-width="0.9"/>
<path d="M394.4 303.1 H416.5 L414.3 305.26 H396.6 Z" fill="#86dcff" opacity="0.95"/>
<text class="b" x="420.7" y="309.5" font-size="10.26" text-anchor="start" fill="#000" textLength="53.63" lengthAdjust="spacingAndGlyphs">Abundance</text>
<rect x="477.5" y="304.3" width="28.2" height="3" rx="1.5" fill="#a5a5a5" filter="url(#sh)"/>
<rect x="488.4" y="302.6" width="6.4" height="6.4" fill="#fff" stroke="#0a0a0a" stroke-width="1.5"/>
<text class="b" x="506.1" y="309.5" font-size="10.26" text-anchor="start" fill="#000" textLength="30.05" lengthAdjust="spacingAndGlyphs">NO<tspan font-size="66%" dy="0.3em">3</tspan><tspan dy="-0.198em">&#8203;</tspan>-N</text>
<rect x="538.6" y="304" width="29.2" height="3.6" rx="1.8" fill="#000" filter="url(#sh)"/>
<circle cx="553.2" cy="305.8" r="3.4" fill="#fff" stroke="#0a0a0a" stroke-width="1.6"/>
<text class="b" x="568.3" y="309.5" font-size="10.26" text-anchor="start" fill="#000" textLength="27.5" lengthAdjust="spacingAndGlyphs">PO<tspan font-size="66%" dy="0.3em">4</tspan><tspan dy="-0.198em">&#8203;</tspan>-P</text>
</g>
</g>
</svg>
</body></html>
